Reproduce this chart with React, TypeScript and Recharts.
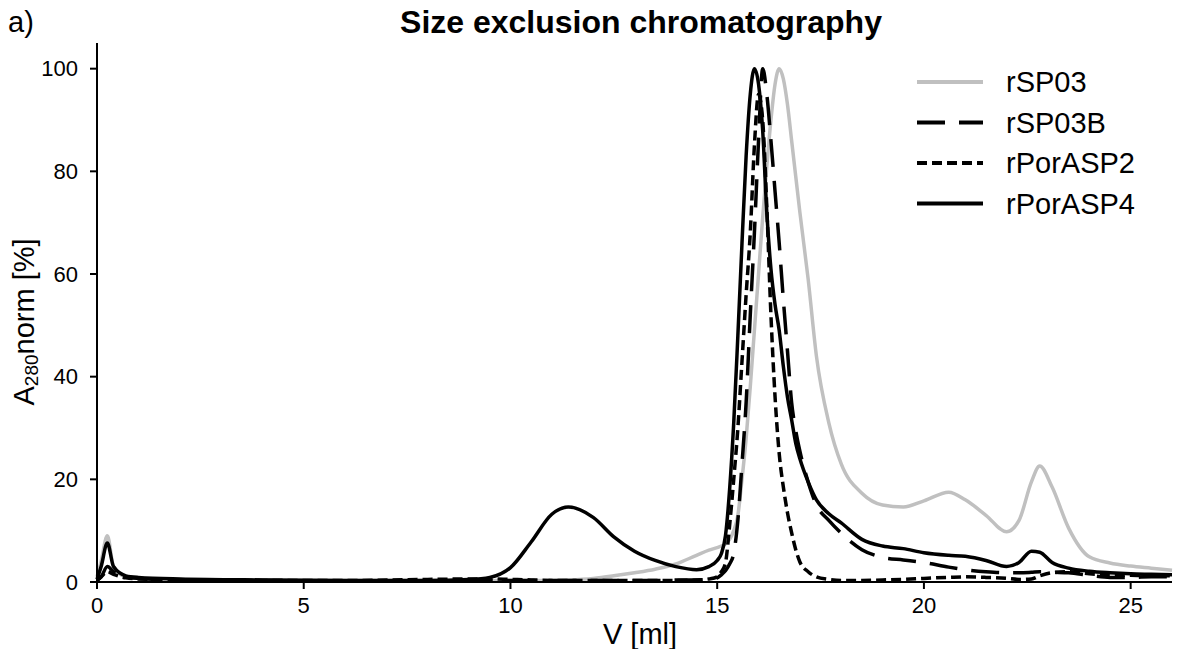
import React from 'react';
import { LineChart, Line, XAxis, YAxis } from 'recharts';

const VOLUME = [
  0, 0.1, 0.25, 0.4, 0.7, 1, 2, 4, 6, 8, 9, 9.5, 10, 10.5, 11, 11.4, 12, 12.5, 13, 13.5, 14, 14.5, 14.8,
  15, 15.1, 15.2, 15.3, 15.4, 15.5, 15.6, 15.7, 15.8, 15.9, 16, 16.1, 16.2, 16.3, 16.4, 16.5, 16.6, 16.7,
  16.8, 16.9, 17, 17.2, 17.4, 17.7, 18, 18.5, 19, 19.5, 20, 20.6, 21, 21.5, 22, 22.3, 22.6, 22.8, 23.1,
  23.5, 24, 24.5, 25, 25.5, 26,
];

const RSP03 = [
  1.0, 4, 9, 3, 1.0, 0.8, 0.5, 0.4, 0.3, 0.3, 0.3, 0.3, 0.3, 0.3, 0.3, 0.4, 0.7, 1.2, 1.8, 2.5, 3.5, 5.2, 6.2,
  6.7, 7.0, 7.4, 8.3, 10, 13, 20, 28, 38, 49, 60, 71, 81, 90, 97, 100, 98, 93,
  86, 79, 72, 59, 44, 31, 23, 17.3, 15, 14.6, 15.8, 17.5, 16, 13, 9.8, 12, 19.5, 22.6, 18.5,
  10.5, 4.9, 3.7, 3.1, 2.7, 2.3,
];

const RSP03B = [
  0.3, 1, 3, 2, 1, 0.7, 0.4, 0.3, 0.2, 0.2, 0.3, 0.3, 0.3, 0.3, 0.3, 0.3, 0.3, 0.3, 0.3, 0.3, 0.4, 0.4, 0.5,
  0.8, 1.4, 2.2, 3.5, 5.6, 12, 23, 35, 52, 68, 86, 100, 95, 86, 76, 66, 55, 45,
  35, 29.5, 25.5, 19.5, 15, 12, 9.5, 6.3, 4.8, 4.3, 3.8, 2.9, 2.4, 2.0, 1.8, 1.8, 1.9, 2.0, 1.9,
  1.8, 1.3, 0.9, 0.9, 1.0, 1.0,
];

const RPORASP2 = [
  0.3, 1, 2, 1.5, 0.8, 0.6, 0.4, 0.3, 0.3, 0.5, 0.6, 0.6, 0.5, 0.4, 0.3, 0.3, 0.3, 0.3, 0.3, 0.3, 0.3, 0.4, 0.6,
  1.0, 2, 3.7, 11, 20, 30, 43, 56, 68, 85, 95, 90, 73, 52, 36, 25, 18.5, 13.5,
  9.6, 6.3, 3.9, 2, 1.0, 0.5, 0.3, 0.3, 0.4, 0.5, 0.7, 0.9, 1.0, 0.9, 0.7, 0.5, 0.6, 1.2, 1.8,
  2.0, 1.6, 1.4, 1.3, 1.2, 1.2,
];

const RPORASP4 = [
  0.5, 3, 7.6, 3, 1.2, 0.9, 0.6, 0.4, 0.3, 0.3, 0.5, 0.9, 2.8, 7.8, 13.2, 14.6, 12.6, 8.8, 6.0, 4.2, 3.0, 2.4, 3.0,
  4.2, 5.5, 9, 18, 31, 48, 66, 83, 95, 100, 97, 88, 72, 61, 54, 49, 42, 36,
  31.6, 27, 24, 19.5, 16, 13.3, 11.5, 8.3, 7.0, 6.5, 5.7, 5.2, 5.0, 4.2, 3.0, 3.8, 6.0, 5.8, 3.8,
  2.7, 2.1, 1.8, 1.6, 1.5, 1.4,
];

const X_TICKS = [0, 5, 10, 15, 20, 25];
const Y_TICKS = [0, 20, 40, 60, 80, 100];

const SERIES = [
  { name: 'rSP03', values: RSP03, color: '#c0c0c0', dash: undefined as string | undefined },
  { name: 'rSP03B', values: RSP03B, color: '#000000', dash: '28 14' },
  { name: 'rPorASP2', values: RPORASP2, color: '#000000', dash: '10 5' },
  { name: 'rPorASP4', values: RPORASP4, color: '#000000', dash: undefined as string | undefined },
];

const data = VOLUME.map((v, i) => {
  const row: Record<string, number> = { v };
  SERIES.forEach(s => {
    row[s.name] = s.values[i];
  });
  return row;
});

const FONT = '"Liberation Sans", Arial, sans-serif';

const renderYLabel = () => (
  <text
    x={16}
    y={314}
    transform="rotate(-90 16 314)"
    textAnchor="middle"
    dominantBaseline="central"
    fontSize={29}
    fontFamily={FONT}
    fill="#000"
  >
    A<tspan fontSize={19} dy={7}>280</tspan>
    <tspan dy={-7}>norm [%]</tspan>
  </text>
);

const renderXLabel = () => (
  <text x={632} y={636} textAnchor="middle" fontSize={29} fontFamily={FONT} fill="#000">
    V [ml]
  </text>
);

export default function App() {
  return (
    <div style={{ position: 'relative', width: 1176, height: 641 }}>
      <LineChart
        width={1176}
        height={641}
        data={data}
        margin={{ top: 35, right: 12, left: 0, bottom: 0 }}
      >
        <XAxis
          dataKey="v"
          type="number"
          domain={[0, 26]}
          ticks={X_TICKS}
          height={67}
          stroke="#000"
          strokeWidth={2}
          tickSize={7}
          tickMargin={8}
          tick={{ fill: '#000', fontSize: 22, fontFamily: FONT }}
          label={{ content: renderXLabel }}
        />
        <YAxis
          type="number"
          domain={[0, 105]}
          ticks={Y_TICKS}
          width={89}
          stroke="#000"
          strokeWidth={2}
          tickSize={7}
          tickMargin={12}
          tick={{ fill: '#000', fontSize: 22, fontFamily: FONT }}
          label={{ content: renderYLabel }}
        />
        {SERIES.map(s => (
          <Line
            key={s.name}
            dataKey={s.name}
            name={s.name}
            type="monotone"
            stroke={s.color}
            strokeWidth={3.5}
            strokeDasharray={s.dash}
            dot={false}
            activeDot={false}
            isAnimationActive={false}
          />
        ))}
      </LineChart>
      {/* title, panel letter and legend drawn on top, in page pixels */}
      <svg
        width={1192}
        height={240}
        style={{ position: 'absolute', left: -8, top: -8, pointerEvents: 'none', overflow: 'visible' }}
      >
        <text x={8} y={32} fontSize={29} fontFamily={FONT} fill="#000">
          a)
        </text>
        <text x={641} y={33} textAnchor="middle" fontSize={32} fontWeight="bold" fontFamily={FONT} fill="#000">
          Size exclusion chromatography
        </text>
        {SERIES.map((s, i) => {
          const y = 82 + i * 40.5;
          return (
            <g key={s.name}>
              <line x1={917} x2={983} y1={y} y2={y} stroke={s.color} strokeWidth={4} strokeDasharray={s.dash} />
              <text x={1006} y={y} dy="0.36em" fontSize={29} fontFamily={FONT} fill="#000">
                {s.name}
              </text>
            </g>
          );
        })}
      </svg>
    </div>
  );
}
